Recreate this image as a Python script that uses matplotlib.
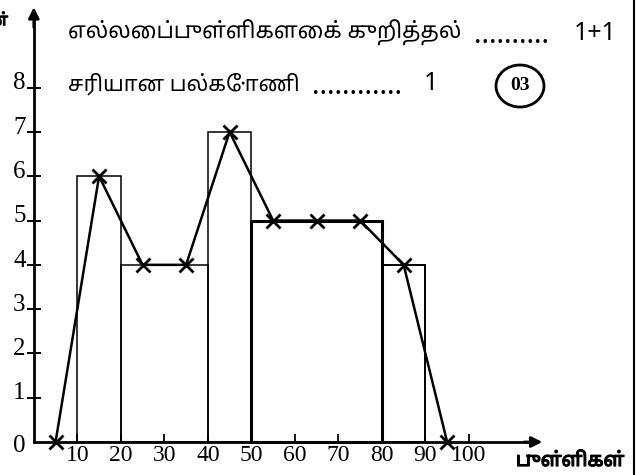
import matplotlib
matplotlib.use("Agg")
import logging
import matplotlib.pyplot as plt
import matplotlib.patheffects as pe
from matplotlib.patches import Ellipse
from matplotlib.lines import Line2D

logging.getLogger("matplotlib.font_manager").setLevel(logging.ERROR)

# histogram classes (left edge, width) and frequencies
bin_left = [10, 20, 40, 50, 80]
bin_width = [10, 20, 10, 30, 10]
freq = [6, 4, 7, 5, 4]
bar_lw = [1.1, 1.1, 1.1, 2.2, 1.4]

# frequency polygon through the class mid values
poly_x = [5, 15, 25, 35, 45, 55, 65, 75, 85, 95]
poly_y = [0, 6, 4, 4, 7, 5, 5, 5, 4, 0]

x_ticks = [10, 20, 30, 40, 50, 60, 70, 80, 90, 100]
y_ticks = [1, 2, 3, 4, 5, 6, 7, 8]

line1 = "எல்லைப்புள்ளிகளைக் குறித்தல்"
line2 = "சரியான பல்கோணி"
x_title = "புள்ளிகள்"
y_title = "மீடிறன்"

# try any font that may carry Tamil glyphs, then fall back
tamil = ["Noto Sans Tamil", "Noto Serif Tamil", "Lohit Tamil", "FreeSans",
         "Latha", "Nirmala UI", "Noto Sans", "DejaVu Sans"]
serif = "Liberation Serif"
# fake bold for the Tamil titles (the Tamil face has no bold weight)
heavy = [pe.withStroke(linewidth=0.9, foreground="black")]

fig = plt.figure(figsize=(6.36, 4.75), dpi=100)
ax = fig.add_axes([0, 0, 1, 1])
ax.set_xlim(-7.77, 138.4)
ax.set_ylim(-0.745, 9.98)

# bars of the histogram
for left, w, h, lw in zip(bin_left, bin_width, freq, bar_lw):
    ax.bar(left, h, width=w, align="edge", fill=False, edgecolor="black", linewidth=lw)

# polygon
ax.plot(poly_x, poly_y, color="black", linewidth=1.8, marker="x",
        markersize=10, markeredgewidth=2.0)

# axes through the origin
for s in ["top", "right"]:
    ax.spines[s].set_visible(False)
ax.spines["left"].set_position(("data", 0))
ax.spines["bottom"].set_position(("data", 0))
ax.spines["left"].set_bounds(0, 9.5)
ax.spines["bottom"].set_bounds(0, 115)
ax.spines["left"].set_linewidth(2.0)
ax.spines["bottom"].set_linewidth(2.0)
ax.annotate("", xy=(0, 9.88), xytext=(0, 9.3),
            arrowprops=dict(arrowstyle="-|>", color="black", lw=2.0, mutation_scale=16))
ax.annotate("", xy=(117.5, 0), xytext=(112, 0),
            arrowprops=dict(arrowstyle="-|>", color="black", lw=2.0, mutation_scale=16))

ax.set_xticks(x_ticks)
ax.set_xticklabels([str(v) for v in x_ticks], fontfamily=serif, fontsize=17)
ax.tick_params(axis="x", direction="in", length=6, width=1.3, pad=2)
ax.set_yticks(y_ticks)
ax.set_yticklabels([])
ax.tick_params(axis="y", direction="inout", length=10, width=1.4)
for v in y_ticks:
    ax.text(-1.9, v - 0.04, str(v), ha="right", va="baseline", fontfamily=serif, fontsize=18)
ax.text(-1.9, -0.1, "0", ha="right", va="center", fontfamily=serif, fontsize=18)

# axis titles (the y title is cut by the page edge, as in the scan)
fig.text(570 / 636, 1 - 461 / 475, x_title, ha="center", va="center",
         family=tamil, fontsize=14, path_effects=heavy)
fig.text(8 / 636, 1 - 21 / 475, y_title, ha="right", va="center",
         family=tamil, fontsize=12, path_effects=heavy)

# marking scheme text
fig.text(68 / 636, 1 - 33 / 475, line1, ha="left", va="center", family=tamil, fontsize=16)
fig.text(474 / 636, 1 - 36 / 475, "..........", ha="left", va="center", family=tamil,
         fontsize=20, fontweight="bold")
fig.text(574 / 636, 1 - 33 / 475, "1+1", ha="left", va="center", family=tamil, fontsize=18)
fig.text(68 / 636, 1 - 84 / 475, line2, ha="left", va="center", family=tamil, fontsize=15.5)
fig.text(312 / 636, 1 - 87 / 475, "............", ha="left", va="center", family=tamil,
         fontsize=20, fontweight="bold")
fig.text(424 / 636, 1 - 84 / 475, "1", ha="left", va="center", family=tamil, fontsize=18)

fig.patches.append(Ellipse((520 / 636, 1 - 86 / 475), 48 / 636, 42 / 475,
                           transform=fig.transFigure, fill=False, edgecolor="black", linewidth=2.0))
fig.text(520 / 636, 1 - 86 / 475, "03", ha="center", va="center", fontfamily=serif,
         fontsize=14, fontweight="bold")

# page border on the right
fig.lines.append(Line2D([634 / 636, 634 / 636], [0, 1], transform=fig.transFigure,
                        color="black", linewidth=1.5))

fig.savefig("out.png", dpi=100)
